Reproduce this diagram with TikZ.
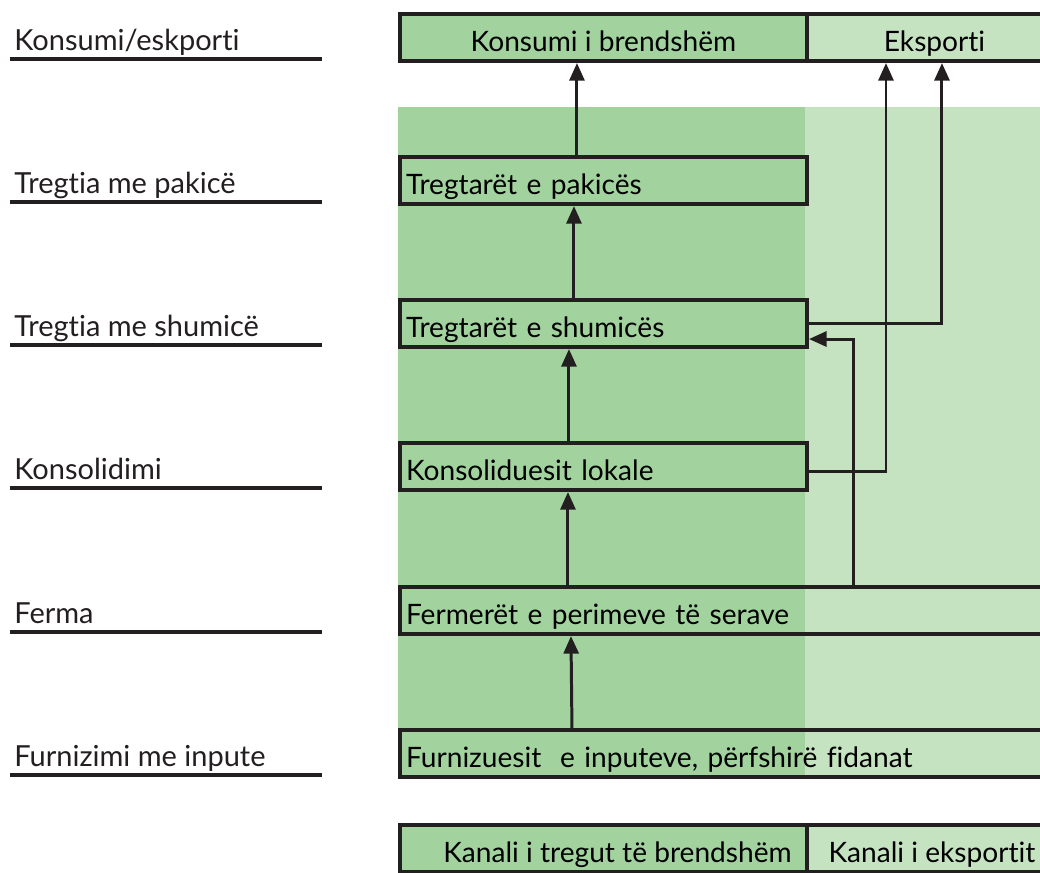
\documentclass[tikz,border=0pt]{standalone}
\usepackage{fontspec}
\setmainfont[Ligatures=NoCommon]{Lato}
\usetikzlibrary{arrows.meta, positioning, calc}
\definecolor{darkgreen}{HTML}{A2D39E}
\definecolor{lightgreen}{HTML}{C5E3C0}
\definecolor{ink}{HTML}{231F20}

\begin{document}
\begin{tikzpicture}[x=0.02cm, y=-0.02cm, >={Triangle[length=10pt, width=8.5pt]},
  stage/.style={rectangle, draw=ink, line width=2.3pt, anchor=north west,
    minimum height=0.94cm, inner xsep=0.12cm, align=left, text height=16pt, text depth=0pt,
    font=\fontsize{16}{19}\selectfont},
  narrow/.style={stage, fill=darkgreen, text width=7.9cm},
  wide/.style={stage, text width=13.4cm},
  head/.style={rectangle, draw=ink, line width=2.3pt, anchor=north west,
    minimum height=0.94cm, align=center, text height=16pt, text depth=0pt,
    font=\fontsize{16}{19}\selectfont},
  level/.style={anchor=base west, inner sep=0pt, font=\fontsize{16.5}{19}\selectfont, text=ink},
  rule/.style={draw=ink, line width=1.8pt},
  flow/.style={->, draw=ink, line width=1.7pt}]
  \useasboundingbox (0,0) rectangle (1040,872);

  % coloured channel bands
  \fill[darkgreen] (398,107) rectangle (805,776);
  \fill[lightgreen] (805,107) rectangle (1040,776);

  % level labels
  \node[level] (lkons) at (14,50) {Konsumi/eskporti};
  \node[level] (lpak) at (14,193) {Tregtia me pakicë};
  \node[level] (lshum) at (14,336) {Tregtia me shumicë};
  \node[level] (lkonsol) at (14,479) {Konsolidimi};
  \node[level] (lferm) at (14,623) {Ferma};
  \node[level] (lfurn) at (14,766) {Furnizimi me inpute};
  \draw[rule] (10,59) -- (322,59);
  \draw[rule] (10,202) -- (322,202);
  \draw[rule] (10,345) -- (322,345);
  \draw[rule] (10,488) -- (322,488);
  \draw[rule] (10,632) -- (322,632);
  \draw[rule] (10,775) -- (322,775);

  % chain nodes
  \node[head, fill=darkgreen, minimum width=8.14cm] (konsum) at (398,12) {Konsumi i brendshëm};
  \node[head, fill=lightgreen, minimum width=5.4cm] (eksport) at (805,12) {\hspace*{-0.3cm}Eksporti};
  \node[narrow] (pakic) at (398,155) {Tregtarët e pakicës};
  \node[narrow] (shumic) at (398,298) {Tregtarët e shumicës};
  \node[narrow] (konsol) at (398,441) {Konsoliduesit lokale};
  \node[wide] (ferm) at (398,585) {Fermerët e perimeve të serave};
  \node[wide] (furn) at (398,728) {Furnizuesit\ \ e inputeve, përfshirë fidanat};
  \node[head, fill=darkgreen, minimum width=8.14cm] (kanbr) at (398,823) {\quad Kanali i tregut të brendshëm};
  \node[head, fill=lightgreen, minimum width=5.4cm] (kaneks) at (805,823) {\hspace*{-0.4cm}Kanali i eksportit};

  % flows
  \draw[flow] ([xshift=3.58cm]pakic.north west) -- ([xshift=3.58cm]konsum.south west);
  \draw[flow] ([xshift=3.52cm]shumic.north west) -- ([xshift=3.52cm]pakic.south west);
  \draw[flow] ([xshift=3.42cm]konsol.north west) -- ([xshift=3.42cm]shumic.south west);
  \draw[flow] ([xshift=3.40cm]ferm.north west) -- ([xshift=3.40cm]konsol.south west);
  \draw[flow] ([xshift=3.48cm]furn.north west) -- ([xshift=3.46cm]ferm.south west);
  \draw[flow] ([yshift=-0.1cm]konsol.east -| konsol.east) -| ([xshift=1.62cm]eksport.south west);
  \draw[flow] (shumic.east) -| ([xshift=2.74cm]eksport.south west);
  \draw[flow] ([xshift=9.12cm]ferm.north west) |- ([yshift=-0.31cm]shumic.east);
\end{tikzpicture}
\end{document}
